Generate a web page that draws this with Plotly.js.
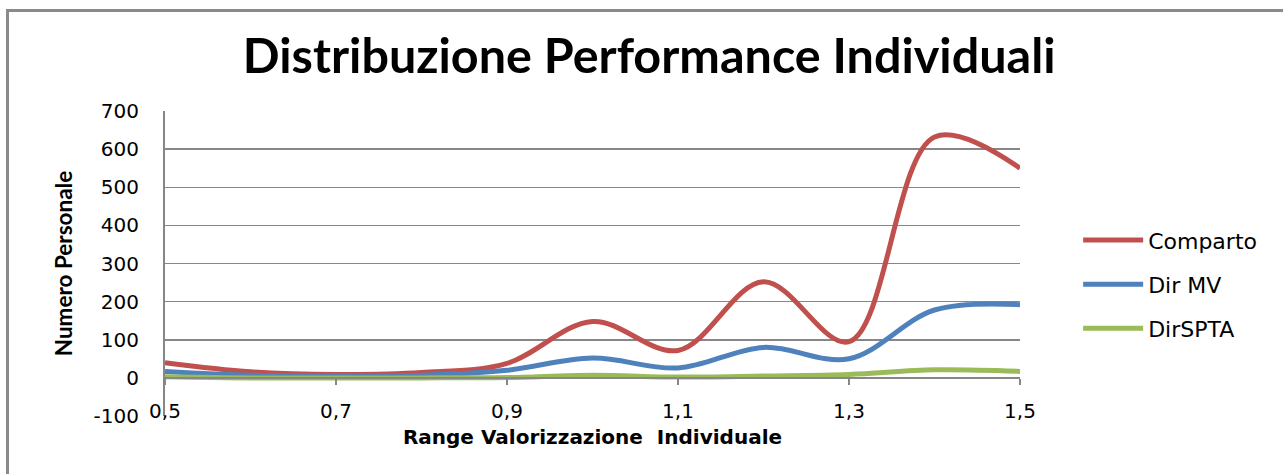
<!DOCTYPE html>
<html>
<head>
<meta charset="utf-8">
<script src="https://cdn.plot.ly/plotly-3.0.1.min.js"></script>
<style>
  html, body { margin: 0; padding: 0; background: #fff; }
  #wrap { position: relative; width: 1283px; height: 474px; }
  #chart { width: 1283px; height: 474px; }
  #frame { position: absolute; left: 6px; top: 9px; right: -10px; bottom: -10px;
           border-left: 3px solid #8a8a8a; border-top: 3px solid #8a8a8a; pointer-events: none; }
</style>
</head>
<body>
<div id="wrap">
  <div id="chart"></div>
  <div id="frame"></div>
</div>
<script>
const rangeValues = [0.5, 0.6, 0.7, 0.8, 0.9, 1.0, 1.1, 1.2, 1.3, 1.4, 1.5];
const comparto   = [40, 16, 9, 14, 38, 148, 72, 252, 95, 632, 550];
const dirMV      = [17, 7, 6, 7, 20, 52, 26, 80, 50, 178, 192];
const dirSPTA    = [3, 0, 0, 0, 1, 7, 2, 5, 9, 21, 17];
const seriesNames = ['Comparto', 'Dir MV', 'DirSPTA'];
const seriesColors = ['#C0504D', '#4F81BD', '#9BBB59'];
const seriesData = [comparto, dirMV, dirSPTA];
const yTickValues = [-100, 0, 100, 200, 300, 400, 500, 600, 700];
const yTickLabels = ['-100', '0', '100', '200', '300', '400', '500', '600', '700'];

const traces = seriesData.map((vals, i) => ({
  type: 'scatter',
  mode: 'lines',
  name: seriesNames[i],
  legendgroup: 'g' + i,
  x: rangeValues,
  y: vals,
  line: { color: seriesColors[i], width: 5, shape: 'spline', smoothing: 1 }
}));

const gridGray = '#878787';
const layout = {
  width: 1283, height: 474,
  margin: { l: 165, r: 263, t: 111, b: 58 },
  paper_bgcolor: '#ffffff', plot_bgcolor: '#ffffff',
  separators: ',.',
  showlegend: true,
  title: {
    text: '<b>Distribuzione Performance Individuali</b>',
    font: { family: 'Lato, "Open Sans", sans-serif', size: 48.5, color: '#000' },
    x: 0.506, xanchor: 'center', y: 0.882, yanchor: 'middle'
  },
  xaxis: {
    range: [0.5, 1.5], tick0: 0.5, dtick: 0.2, tickformat: '.1f',
    anchor: 'free', position: 0.125,
    showgrid: false, zeroline: false,
    showline: true, linecolor: gridGray, linewidth: 2,
    ticks: 'outside', ticklen: 6, tickwidth: 2, tickcolor: gridGray,
    ticklabelstandoff: 9,
    tickfont: { family: '"DejaVu Sans", Verdana, sans-serif', size: 20, color: '#000' },
    title: {
      text: '<b>Range Valorizzazione  Individuale</b>',
      font: { family: '"DejaVu Sans", Verdana, sans-serif', size: 20, color: '#000' },
      standoff: 7
    }
  },
  yaxis: {
    range: [-100, 700], tickmode: 'array', tickvals: yTickValues, ticktext: yTickLabels,
    showgrid: true, gridcolor: gridGray, gridwidth: 1.5,
    zeroline: true, zerolinecolor: gridGray, zerolinewidth: 2,
    showline: true, linecolor: gridGray, linewidth: 2,
    ticks: '', ticklabelstandoff: 20,
    tickfont: { family: '"DejaVu Sans", Verdana, sans-serif', size: 20, color: '#000' },
    title: {
      text: '<b>Numero Personale</b>',
      font: { family: 'Lato, "Open Sans", sans-serif', size: 22.5, color: '#000' },
      standoff: 15
    }
  },
  legend: {
    x: 1.068, xanchor: 'left', y: 0.645, yanchor: 'top',
    font: { family: '"DejaVu Sans", Verdana, sans-serif', size: 22, color: '#000' },
    itemwidth: 60, tracegroupgap: 12.5,
    bgcolor: 'rgba(0,0,0,0)'
  }
};

Plotly.newPlot('chart', traces, layout, { displayModeBar: false, staticPlot: true });
</script>
</body>
</html>
